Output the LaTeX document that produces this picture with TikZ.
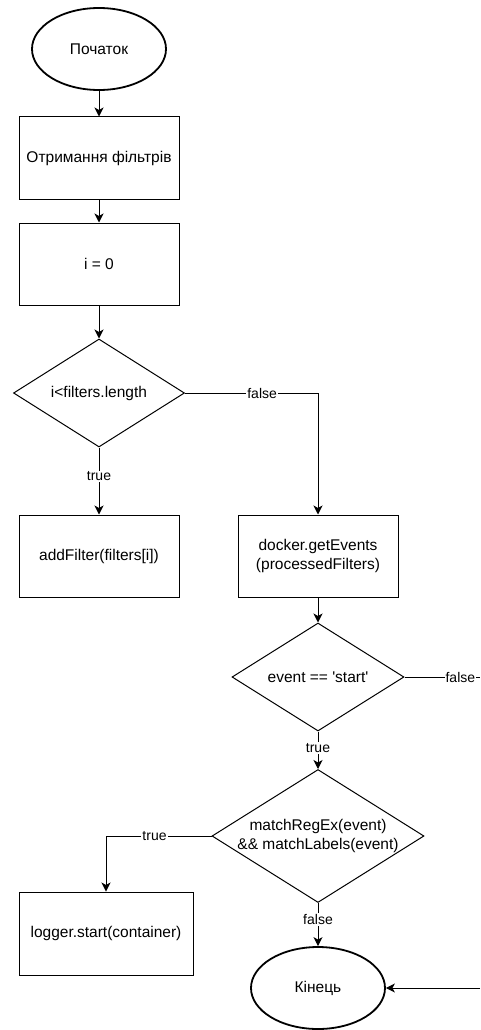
\documentclass[tikz,border=0pt]{standalone}
\usepackage{fontspec}
\setmainfont{Liberation Sans}[Ligatures=TeXOff]
\usetikzlibrary{shapes.geometric,arrows.meta}

\newcommand{\mainsize}{\fontsize{15.5}{19}\selectfont}
\newcommand{\labelsize}{\fontsize{14}{16}\selectfont}

\tikzset{
  terminal/.style={ellipse, draw, line width=1.8pt, minimum width=134pt, minimum height=82pt, inner sep=0pt, font=\mainsize},
  process/.style={rectangle, draw, line width=1pt, minimum width=160pt, minimum height=82pt, inner sep=0pt, align=center, font=\mainsize},
  decision/.style={diamond, draw, line width=1pt, aspect=1.6, inner sep=0pt, align=center, font=\mainsize},
  flow/.style={->, >={Stealth[length=9pt,width=9pt,inset=2.5pt]}, line width=1pt},
  answer/.style={fill=white, inner sep=1pt, font=\labelsize},
}

\begin{document}
\begin{tikzpicture}[x=1pt,y=-1pt]

\useasboundingbox (0,0) rectangle (480,1030);

% Start and setup
\node[terminal] (start) at (99,49) {Початок};
\node[process] (filters) at (99,158) {Отримання фільтрів};
\node[process] (init) at (99,264) {i = 0};

% Loop over filters
\node[decision, minimum width=171pt, minimum height=108pt] (loop) at (99,393) {i<filters.length};
\node[process] (add) at (99,556) {addFilter(filters[i])};
\node[process] (events) at (318,556) {docker.getEvents\\(processedFilters)};

% Event checks
\node[decision, minimum width=172pt, minimum height=108pt] (isstart) at (318,677) {event == 'start'};
\node[decision, minimum width=212pt, minimum height=133pt, inner sep=-8pt] (match) at (318,836) {matchRegEx(event)\\\&\& matchLabels(event)};
\node[process, minimum width=174pt, minimum height=83pt] (logger) at (106,933.5) {logger.start(container)};

% End
\node[terminal] (finish) at (318,988) {Кінець};
\coordinate (offright) at (480,677);
\coordinate (backin) at (480,988);

% Connectors
\draw[flow] (start) -- (filters);
\draw[flow] (filters) -- (init);
\draw[flow] (init) -- (loop);
\draw[flow] (loop) -- node[answer, pos=0.43] {true} (add);
\draw[flow] (loop.east) -| node[answer, pos=0.29] {false} (events.north);
\draw[flow] (events) -- (isstart);
\draw[line width=1pt] (isstart.east) -- node[answer, pos=0.74] {false} (offright);
\draw[flow] (isstart) -- node[answer, pos=0.44] {true} (match);
\draw[flow] (match.west) -| node[answer, pos=0.27] {true} (logger.north);
\draw[flow] (match) -- node[answer, pos=0.38] {false} (finish);
\draw[flow] (backin) -- (finish);

\end{tikzpicture}
\end{document}
